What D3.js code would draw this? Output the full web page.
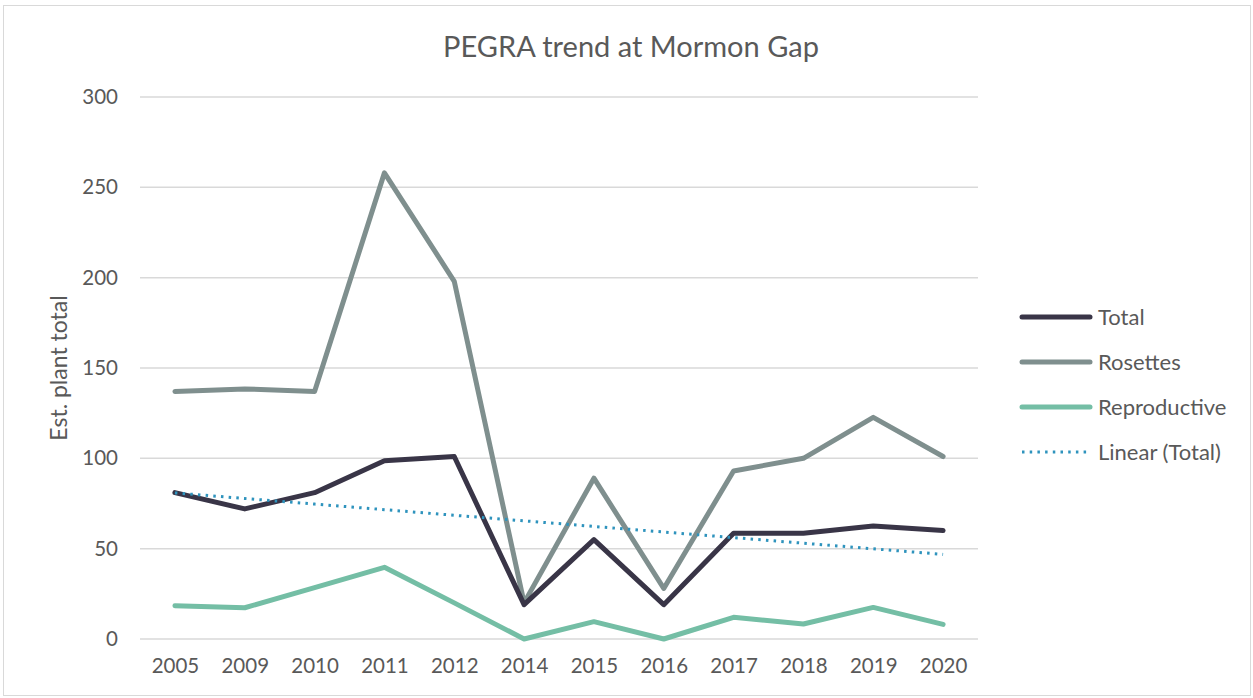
<!DOCTYPE html>
<html>
<head>
<meta charset="utf-8">
<script src="https://cdn.jsdelivr.net/npm/d3@7"></script>
<style>
  body { margin: 0; background: #fff; }
  text { font-family: Lato, "Open Sans", sans-serif; fill: #595959; }
</style>
</head>
<body>
<script>
// Chart data
const years = ["2005", "2009", "2010", "2011", "2012", "2014", "2015", "2016", "2017", "2018", "2019", "2020"];
const total = [81, 72, 81, 98.7, 101, 19, 55, 19, 58.5, 58.5, 62.5, 60];
const rosettes = [137, 138.4, 137, 258, 198, 20, 89, 28, 93, 100, 122.7, 101];
const reproductive = [18.4, 17.3, 28.4, 39.7, 20, 0, 9.6, 0, 12, 8.3, 17.5, 8.1];
const yTicks = [0, 50, 100, 150, 200, 250, 300];

const w = 1253;
const h = 698;
const plot = { left: 140, right: 978, top: 97, bottom: 639 };

const svg = d3.select("body").append("svg")
  .attr("width", w)
  .attr("height", h);

// chart border
svg.append("rect")
  .attr("x", 3.5).attr("y", 5.5)
  .attr("width", w - 6).attr("height", h - 8)
  .attr("fill", "none")
  .attr("stroke", "#d9d9d9");

const x = d3.scalePoint()
  .domain(years)
  .range([plot.left, plot.right])
  .padding(0.5);

const y = d3.scaleLinear()
  .domain([0, 300])
  .range([plot.bottom, plot.top]);

// gridlines
svg.append("g")
  .selectAll("line")
  .data(yTicks)
  .enter()
  .append("line")
  .attr("x1", plot.left)
  .attr("x2", plot.right)
  .attr("y1", d => y(d))
  .attr("y2", d => y(d))
  .attr("stroke", "#d9d9d9")
  .attr("stroke-width", 1.5);

// y axis labels
const yAxis = svg.append("g")
  .attr("transform", `translate(${plot.left - 22},0)`)
  .call(d3.axisLeft(y).tickValues(yTicks).tickSize(0).tickPadding(0));
yAxis.select(".domain").remove();
yAxis.selectAll("text")
  .style("font-size", "20.5px")
  .style("font-family", "Lato, sans-serif")
  .attr("fill", "#595959");

// x axis labels
const xAxis = svg.append("g")
  .attr("transform", `translate(0,${plot.bottom})`)
  .call(d3.axisBottom(x).tickSize(0).tickPadding(19));
xAxis.select(".domain").remove();
xAxis.selectAll("text")
  .style("font-size", "20.5px")
  .style("font-family", "Lato, sans-serif")
  .attr("fill", "#595959");

// title
svg.append("text")
  .attr("x", 631)
  .attr("y", 57)
  .attr("text-anchor", "middle")
  .style("font-size", "29px")
  .text("PEGRA trend at Mormon Gap");

// y axis title
svg.append("text")
  .attr("transform", `translate(67,${(plot.top + plot.bottom) / 2}) rotate(-90)`)
  .attr("text-anchor", "middle")
  .style("font-size", "23px")
  .text("Est. plant total");

// linear trend of Total (least squares)
const idx = years.map((d, i) => i + 1);
const mx = d3.mean(idx);
const my = d3.mean(total);
const slope = d3.sum(idx, (v, i) => (v - mx) * (total[i] - my)) / d3.sum(idx, v => (v - mx) * (v - mx));
const intercept = my - slope * mx;
const trend = idx.map(v => intercept + slope * v);

const series = [
  { name: "Total", values: total, color: "#393547", width: 5, dash: null },
  { name: "Rosettes", values: rosettes, color: "#7f8f8e", width: 5, dash: null },
  { name: "Reproductive", values: reproductive, color: "#74bea5", width: 5, dash: null },
  { name: "Linear (Total)", values: trend, color: "#2e93bd", width: 3, dash: "2.5,5.2" }
];

const line = d3.line()
  .x((d, i) => x(years[i]))
  .y(d => y(d));

// draw reproductive first, then rosettes, total, trend on top
[series[2], series[1], series[0], series[3]].forEach(s => {
  svg.append("path")
    .datum(s.values)
    .attr("d", line)
    .attr("fill", "none")
    .attr("stroke", s.color)
    .attr("stroke-width", s.width)
    .attr("stroke-linejoin", "round")
    .attr("stroke-linecap", s.dash ? "butt" : "round")
    .attr("stroke-dasharray", s.dash);
});

// legend
const legend = svg.append("g")
  .attr("transform", "translate(1022,317)");

series.forEach((s, i) => {
  const g = legend.append("g").attr("transform", `translate(0,${i * 45})`);
  g.append("line")
    .attr("x1", 0).attr("x2", 68)
    .attr("y1", 0).attr("y2", 0)
    .attr("stroke", s.color)
    .attr("stroke-width", s.width)
    .attr("stroke-linecap", s.dash ? "butt" : "round")
    .attr("stroke-dasharray", s.dash);
  g.append("text")
    .attr("x", 76)
    .attr("y", 0)
    .attr("dy", "0.35em")
    .style("font-size", "22px")
    .text(s.name);
});
</script>
</body>
</html>
